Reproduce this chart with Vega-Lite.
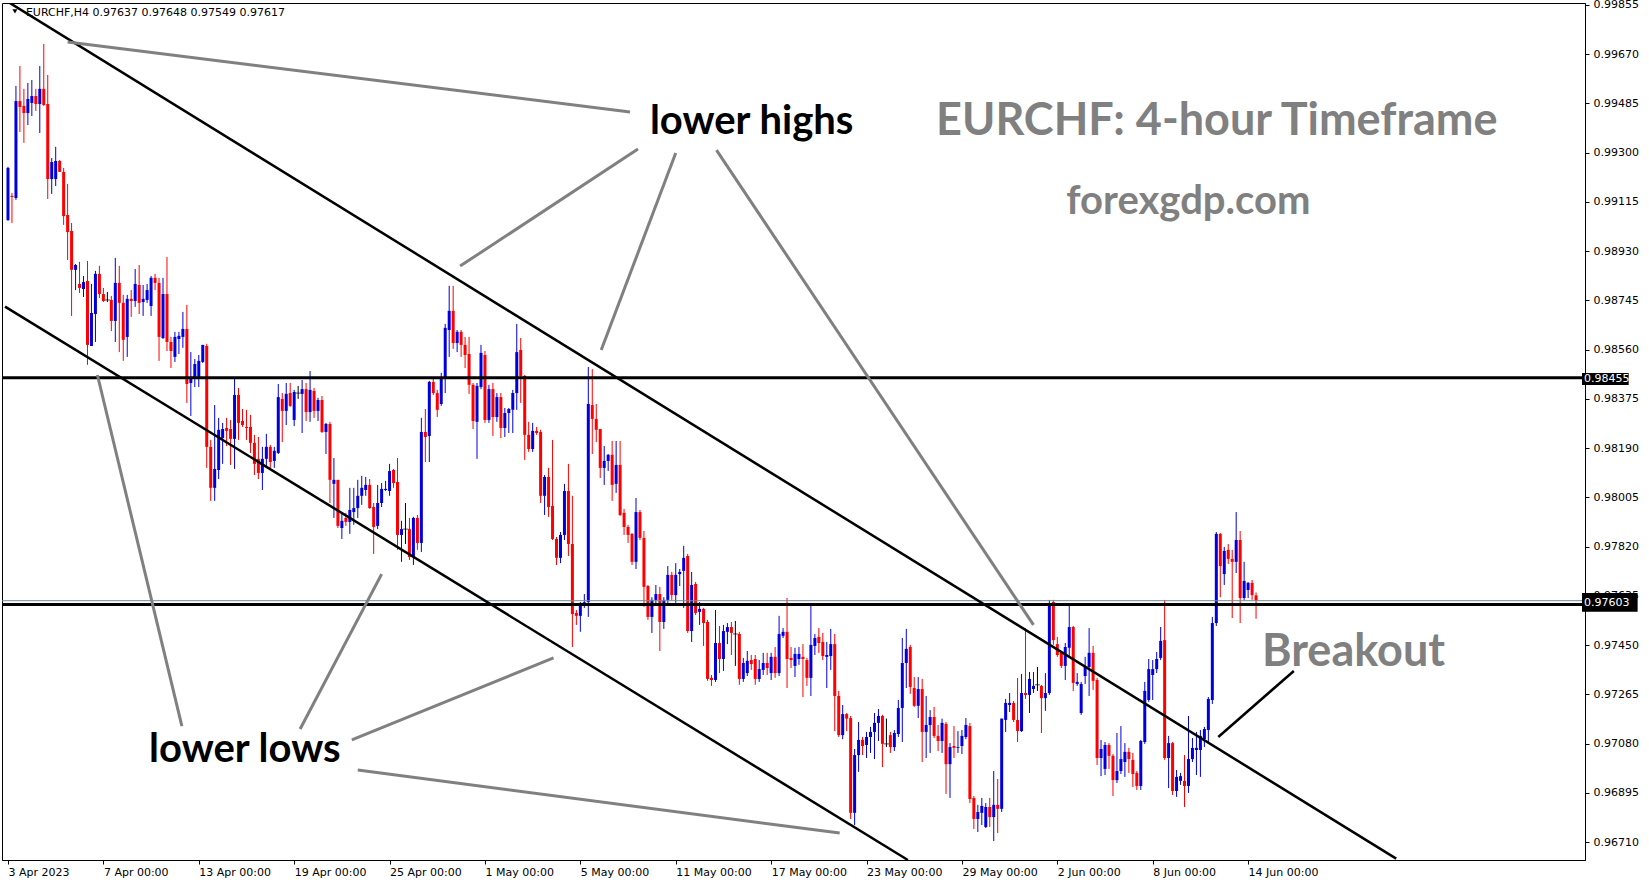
{
"$schema": "https://vega.github.io/schema/vega-lite/v6.json",
"width": 1583, "height": 857,
"autosize": {"type": "none"},
"padding": {"left": 2, "top": 3, "right": 64, "bottom": 24},
"background": "white",
"config": {"view": {"stroke": "black", "strokeWidth": 1}, "font": "DejaVu Sans"},
"datasets": {
"candles": [
{"i":0,"o":0.99047,"h":0.99247,"l":0.99044,"c":0.99243},
{"i":1,"o":0.99138,"h":0.99149,"l":0.99036,"c":0.99134},
{"i":2,"o":0.99130,"h":0.99551,"l":0.99123,"c":0.99494},
{"i":3,"o":0.99494,"h":0.99626,"l":0.99378,"c":0.99472},
{"i":4,"o":0.99476,"h":0.99540,"l":0.99337,"c":0.99449},
{"i":5,"o":0.99449,"h":0.99562,"l":0.99404,"c":0.99502},
{"i":6,"o":0.99487,"h":0.99573,"l":0.99438,"c":0.99513},
{"i":7,"o":0.99513,"h":0.99540,"l":0.99457,"c":0.99483},
{"i":8,"o":0.99483,"h":0.99626,"l":0.99374,"c":0.99540},
{"i":9,"o":0.99540,"h":0.99709,"l":0.99476,"c":0.99479},
{"i":10,"o":0.99483,"h":0.99592,"l":0.99126,"c":0.99201},
{"i":11,"o":0.99201,"h":0.99280,"l":0.99145,"c":0.99265},
{"i":12,"o":0.99201,"h":0.99322,"l":0.99175,"c":0.99269},
{"i":13,"o":0.99269,"h":0.99273,"l":0.99228,"c":0.99228},
{"i":14,"o":0.99228,"h":0.99243,"l":0.99029,"c":0.99062},
{"i":15,"o":0.99066,"h":0.99183,"l":0.98897,"c":0.99002},
{"i":16,"o":0.99006,"h":0.99036,"l":0.98687,"c":0.98860},
{"i":17,"o":0.98860,"h":0.98882,"l":0.98784,"c":0.98878},
{"i":18,"o":0.98807,"h":0.98890,"l":0.98773,"c":0.98792},
{"i":19,"o":0.98788,"h":0.98837,"l":0.98758,"c":0.98814},
{"i":20,"o":0.98818,"h":0.98893,"l":0.98503,"c":0.98578},
{"i":21,"o":0.98574,"h":0.98807,"l":0.98574,"c":0.98698},
{"i":22,"o":0.98694,"h":0.98856,"l":0.98589,"c":0.98845},
{"i":23,"o":0.98845,"h":0.98875,"l":0.98754,"c":0.98769},
{"i":24,"o":0.98769,"h":0.98792,"l":0.98739,"c":0.98743},
{"i":25,"o":0.98747,"h":0.98777,"l":0.98739,"c":0.98747},
{"i":26,"o":0.98747,"h":0.98762,"l":0.98630,"c":0.98668},
{"i":27,"o":0.98668,"h":0.98905,"l":0.98589,"c":0.98811},
{"i":28,"o":0.98811,"h":0.98875,"l":0.98551,"c":0.98736},
{"i":29,"o":0.98736,"h":0.98766,"l":0.98518,"c":0.98597},
{"i":30,"o":0.98608,"h":0.98766,"l":0.98533,"c":0.98751},
{"i":31,"o":0.98751,"h":0.98784,"l":0.98683,"c":0.98743},
{"i":32,"o":0.98743,"h":0.98863,"l":0.98721,"c":0.98807},
{"i":33,"o":0.98803,"h":0.98878,"l":0.98694,"c":0.98736},
{"i":34,"o":0.98739,"h":0.98803,"l":0.98687,"c":0.98751},
{"i":35,"o":0.98747,"h":0.98807,"l":0.98736,"c":0.98784},
{"i":36,"o":0.98724,"h":0.98837,"l":0.98687,"c":0.98830},
{"i":37,"o":0.98830,"h":0.98845,"l":0.98784,"c":0.98811},
{"i":38,"o":0.98811,"h":0.98830,"l":0.98518,"c":0.98608},
{"i":39,"o":0.98604,"h":0.98830,"l":0.98600,"c":0.98769},
{"i":40,"o":0.98769,"h":0.98908,"l":0.98555,"c":0.98589},
{"i":41,"o":0.98589,"h":0.98608,"l":0.98491,"c":0.98555},
{"i":42,"o":0.98533,"h":0.98627,"l":0.98514,"c":0.98608},
{"i":43,"o":0.98600,"h":0.98627,"l":0.98544,"c":0.98612},
{"i":44,"o":0.98608,"h":0.98702,"l":0.98567,"c":0.98638},
{"i":45,"o":0.98638,"h":0.98728,"l":0.98360,"c":0.98431},
{"i":46,"o":0.98435,"h":0.98551,"l":0.98311,"c":0.98454},
{"i":47,"o":0.98458,"h":0.98525,"l":0.98420,"c":0.98506},
{"i":48,"o":0.98458,"h":0.98540,"l":0.98420,"c":0.98518},
{"i":49,"o":0.98514,"h":0.98578,"l":0.98510,"c":0.98578},
{"i":50,"o":0.98574,"h":0.98582,"l":0.98116,"c":0.98195},
{"i":51,"o":0.98195,"h":0.98221,"l":0.97992,"c":0.98041},
{"i":52,"o":0.98041,"h":0.98352,"l":0.97992,"c":0.98112},
{"i":53,"o":0.98108,"h":0.98304,"l":0.98074,"c":0.98259},
{"i":54,"o":0.98228,"h":0.98285,"l":0.98131,"c":0.98262},
{"i":55,"o":0.98266,"h":0.98304,"l":0.98198,"c":0.98255},
{"i":56,"o":0.98262,"h":0.98296,"l":0.98127,"c":0.98225},
{"i":57,"o":0.98225,"h":0.98454,"l":0.98112,"c":0.98390},
{"i":58,"o":0.98390,"h":0.98416,"l":0.98221,"c":0.98285},
{"i":59,"o":0.98292,"h":0.98337,"l":0.98270,"c":0.98277},
{"i":60,"o":0.98270,"h":0.98334,"l":0.98221,"c":0.98266},
{"i":61,"o":0.98270,"h":0.98315,"l":0.98172,"c":0.98210},
{"i":62,"o":0.98210,"h":0.98240,"l":0.98089,"c":0.98131},
{"i":63,"o":0.98150,"h":0.98232,"l":0.98074,"c":0.98097},
{"i":64,"o":0.98097,"h":0.98195,"l":0.98033,"c":0.98150},
{"i":65,"o":0.98150,"h":0.98244,"l":0.98116,"c":0.98195},
{"i":66,"o":0.98195,"h":0.98202,"l":0.98108,"c":0.98138},
{"i":67,"o":0.98142,"h":0.98195,"l":0.98116,"c":0.98180},
{"i":68,"o":0.98172,"h":0.98431,"l":0.98168,"c":0.98382},
{"i":69,"o":0.98375,"h":0.98397,"l":0.98213,"c":0.98330},
{"i":70,"o":0.98330,"h":0.98435,"l":0.98277,"c":0.98394},
{"i":71,"o":0.98397,"h":0.98435,"l":0.98345,"c":0.98349},
{"i":72,"o":0.98296,"h":0.98409,"l":0.98273,"c":0.98401},
{"i":73,"o":0.98397,"h":0.98424,"l":0.98375,"c":0.98397},
{"i":74,"o":0.98394,"h":0.98446,"l":0.98247,"c":0.98412},
{"i":75,"o":0.98412,"h":0.98435,"l":0.98292,"c":0.98326},
{"i":76,"o":0.98326,"h":0.98480,"l":0.98289,"c":0.98409},
{"i":77,"o":0.98405,"h":0.98416,"l":0.98304,"c":0.98330},
{"i":78,"o":0.98330,"h":0.98379,"l":0.98292,"c":0.98371},
{"i":79,"o":0.98371,"h":0.98386,"l":0.98247,"c":0.98251},
{"i":80,"o":0.98251,"h":0.98285,"l":0.98168,"c":0.98281},
{"i":81,"o":0.98281,"h":0.98289,"l":0.97984,"c":0.98071},
{"i":82,"o":0.98056,"h":0.98153,"l":0.97928,"c":0.98071},
{"i":83,"o":0.98071,"h":0.98071,"l":0.97890,"c":0.97898},
{"i":84,"o":0.97890,"h":0.97947,"l":0.97849,"c":0.97917},
{"i":85,"o":0.97928,"h":0.97947,"l":0.97898,"c":0.97913},
{"i":86,"o":0.97913,"h":0.98041,"l":0.97868,"c":0.97958},
{"i":87,"o":0.97950,"h":0.98041,"l":0.97902,"c":0.97965},
{"i":88,"o":0.97965,"h":0.98071,"l":0.97928,"c":0.98011},
{"i":89,"o":0.98011,"h":0.98086,"l":0.97977,"c":0.98041},
{"i":90,"o":0.98033,"h":0.98082,"l":0.98011,"c":0.98052},
{"i":91,"o":0.98052,"h":0.98074,"l":0.97962,"c":0.97965},
{"i":92,"o":0.97969,"h":0.97984,"l":0.97793,"c":0.97894},
{"i":93,"o":0.97898,"h":0.98052,"l":0.97886,"c":0.97984},
{"i":94,"o":0.97984,"h":0.98059,"l":0.97969,"c":0.98037},
{"i":95,"o":0.98033,"h":0.98067,"l":0.98029,"c":0.98037},
{"i":96,"o":0.98029,"h":0.98131,"l":0.98011,"c":0.98104},
{"i":97,"o":0.98108,"h":0.98112,"l":0.98041,"c":0.98059},
{"i":98,"o":0.98063,"h":0.98153,"l":0.97808,"c":0.97864},
{"i":99,"o":0.97864,"h":0.97917,"l":0.97763,"c":0.97886},
{"i":100,"o":0.97886,"h":0.97984,"l":0.97830,"c":0.97886},
{"i":101,"o":0.97886,"h":0.97928,"l":0.97770,"c":0.97781},
{"i":102,"o":0.97781,"h":0.97932,"l":0.97751,"c":0.97928},
{"i":103,"o":0.97928,"h":0.97939,"l":0.97808,"c":0.97834},
{"i":104,"o":0.97834,"h":0.98304,"l":0.97800,"c":0.98251},
{"i":105,"o":0.98251,"h":0.98337,"l":0.98138,"c":0.98232},
{"i":106,"o":0.98236,"h":0.98443,"l":0.98138,"c":0.98439},
{"i":107,"o":0.98439,"h":0.98454,"l":0.98390,"c":0.98397},
{"i":108,"o":0.98397,"h":0.98409,"l":0.98307,"c":0.98334},
{"i":109,"o":0.98356,"h":0.98473,"l":0.98349,"c":0.98454},
{"i":110,"o":0.98450,"h":0.98657,"l":0.98397,"c":0.98642},
{"i":111,"o":0.98634,"h":0.98800,"l":0.98533,"c":0.98706},
{"i":112,"o":0.98706,"h":0.98800,"l":0.98563,"c":0.98585},
{"i":113,"o":0.98585,"h":0.98634,"l":0.98551,"c":0.98627},
{"i":114,"o":0.98627,"h":0.98634,"l":0.98533,"c":0.98578},
{"i":115,"o":0.98578,"h":0.98608,"l":0.98491,"c":0.98540},
{"i":116,"o":0.98544,"h":0.98608,"l":0.98394,"c":0.98428},
{"i":117,"o":0.98428,"h":0.98435,"l":0.98262,"c":0.98292},
{"i":118,"o":0.98289,"h":0.98435,"l":0.98150,"c":0.98424},
{"i":119,"o":0.98420,"h":0.98578,"l":0.98412,"c":0.98548},
{"i":120,"o":0.98540,"h":0.98555,"l":0.98285,"c":0.98296},
{"i":121,"o":0.98296,"h":0.98428,"l":0.98285,"c":0.98412},
{"i":122,"o":0.98412,"h":0.98435,"l":0.98236,"c":0.98307},
{"i":123,"o":0.98307,"h":0.98397,"l":0.98289,"c":0.98382},
{"i":124,"o":0.98382,"h":0.98397,"l":0.98228,"c":0.98266},
{"i":125,"o":0.98266,"h":0.98341,"l":0.98232,"c":0.98322},
{"i":126,"o":0.98322,"h":0.98341,"l":0.98247,"c":0.98337},
{"i":127,"o":0.98334,"h":0.98409,"l":0.98247,"c":0.98397},
{"i":128,"o":0.98397,"h":0.98657,"l":0.98334,"c":0.98551},
{"i":129,"o":0.98559,"h":0.98604,"l":0.98360,"c":0.98461},
{"i":130,"o":0.98461,"h":0.98465,"l":0.98146,"c":0.98240},
{"i":131,"o":0.98240,"h":0.98289,"l":0.98176,"c":0.98187},
{"i":132,"o":0.98187,"h":0.98285,"l":0.98176,"c":0.98255},
{"i":133,"o":0.98255,"h":0.98270,"l":0.98240,"c":0.98247},
{"i":134,"o":0.98251,"h":0.98259,"l":0.97984,"c":0.98011},
{"i":135,"o":0.98011,"h":0.98089,"l":0.97939,"c":0.98082},
{"i":136,"o":0.98082,"h":0.98116,"l":0.97932,"c":0.97969},
{"i":137,"o":0.97973,"h":0.98221,"l":0.97845,"c":0.97849},
{"i":138,"o":0.97849,"h":0.97856,"l":0.97751,"c":0.97778},
{"i":139,"o":0.97778,"h":0.97875,"l":0.97758,"c":0.97864},
{"i":140,"o":0.97864,"h":0.98056,"l":0.97845,"c":0.98029},
{"i":141,"o":0.98029,"h":0.98131,"l":0.97785,"c":0.97830},
{"i":142,"o":0.97830,"h":0.98011,"l":0.97443,"c":0.97567},
{"i":143,"o":0.97571,"h":0.97582,"l":0.97526,"c":0.97560},
{"i":144,"o":0.97560,"h":0.97612,"l":0.97500,"c":0.97601},
{"i":145,"o":0.97609,"h":0.97642,"l":0.97590,"c":0.97612},
{"i":146,"o":0.97612,"h":0.98495,"l":0.97556,"c":0.98356},
{"i":147,"o":0.98352,"h":0.98487,"l":0.98168,"c":0.98300},
{"i":148,"o":0.98300,"h":0.98356,"l":0.98213,"c":0.98259},
{"i":149,"o":0.98262,"h":0.98262,"l":0.98078,"c":0.98116},
{"i":150,"o":0.98116,"h":0.98198,"l":0.98052,"c":0.98142},
{"i":151,"o":0.98142,"h":0.98168,"l":0.98104,"c":0.98165},
{"i":152,"o":0.98165,"h":0.98217,"l":0.97992,"c":0.98052},
{"i":153,"o":0.98056,"h":0.98217,"l":0.98022,"c":0.98127},
{"i":154,"o":0.98127,"h":0.98217,"l":0.97935,"c":0.97939},
{"i":155,"o":0.97947,"h":0.97962,"l":0.97864,"c":0.97894},
{"i":156,"o":0.97894,"h":0.97902,"l":0.97834,"c":0.97864},
{"i":157,"o":0.97868,"h":0.97871,"l":0.97751,"c":0.97763},
{"i":158,"o":0.97763,"h":0.98003,"l":0.97736,"c":0.97950},
{"i":159,"o":0.97950,"h":0.97958,"l":0.97845,"c":0.97853},
{"i":160,"o":0.97853,"h":0.97879,"l":0.97594,"c":0.97669},
{"i":161,"o":0.97672,"h":0.97676,"l":0.97545,"c":0.97556},
{"i":162,"o":0.97556,"h":0.97630,"l":0.97496,"c":0.97620},
{"i":163,"o":0.97620,"h":0.97676,"l":0.97601,"c":0.97642},
{"i":164,"o":0.97642,"h":0.97669,"l":0.97428,"c":0.97537},
{"i":165,"o":0.97537,"h":0.97630,"l":0.97511,"c":0.97620},
{"i":166,"o":0.97620,"h":0.97747,"l":0.97605,"c":0.97714},
{"i":167,"o":0.97714,"h":0.97725,"l":0.97620,"c":0.97638},
{"i":168,"o":0.97638,"h":0.97758,"l":0.97609,"c":0.97714},
{"i":169,"o":0.97717,"h":0.97736,"l":0.97672,"c":0.97725},
{"i":170,"o":0.97729,"h":0.97823,"l":0.97590,"c":0.97778},
{"i":171,"o":0.97785,"h":0.97793,"l":0.97496,"c":0.97503},
{"i":172,"o":0.97503,"h":0.97725,"l":0.97462,"c":0.97676},
{"i":173,"o":0.97680,"h":0.97687,"l":0.97563,"c":0.97571},
{"i":174,"o":0.97575,"h":0.97612,"l":0.97526,"c":0.97586},
{"i":175,"o":0.97586,"h":0.97590,"l":0.97447,"c":0.97533},
{"i":176,"o":0.97537,"h":0.97545,"l":0.97316,"c":0.97323},
{"i":177,"o":0.97327,"h":0.97338,"l":0.97297,"c":0.97319},
{"i":178,"o":0.97319,"h":0.97582,"l":0.97312,"c":0.97458},
{"i":179,"o":0.97458,"h":0.97522,"l":0.97345,"c":0.97398},
{"i":180,"o":0.97398,"h":0.97526,"l":0.97353,"c":0.97503},
{"i":181,"o":0.97500,"h":0.97533,"l":0.97454,"c":0.97518},
{"i":182,"o":0.97518,"h":0.97537,"l":0.97413,"c":0.97496},
{"i":183,"o":0.97492,"h":0.97541,"l":0.97372,"c":0.97492},
{"i":184,"o":0.97492,"h":0.97500,"l":0.97301,"c":0.97323},
{"i":185,"o":0.97323,"h":0.97402,"l":0.97312,"c":0.97383},
{"i":186,"o":0.97345,"h":0.97428,"l":0.97334,"c":0.97391},
{"i":187,"o":0.97394,"h":0.97413,"l":0.97357,"c":0.97379},
{"i":188,"o":0.97398,"h":0.97413,"l":0.97301,"c":0.97323},
{"i":189,"o":0.97323,"h":0.97394,"l":0.97312,"c":0.97360},
{"i":190,"o":0.97357,"h":0.97421,"l":0.97338,"c":0.97383},
{"i":191,"o":0.97383,"h":0.97421,"l":0.97338,"c":0.97364},
{"i":192,"o":0.97345,"h":0.97421,"l":0.97319,"c":0.97406},
{"i":193,"o":0.97406,"h":0.97443,"l":0.97327,"c":0.97345},
{"i":194,"o":0.97345,"h":0.97560,"l":0.97334,"c":0.97492},
{"i":195,"o":0.97485,"h":0.97514,"l":0.97477,"c":0.97500},
{"i":196,"o":0.97500,"h":0.97627,"l":0.97289,"c":0.97398},
{"i":197,"o":0.97402,"h":0.97443,"l":0.97364,"c":0.97394},
{"i":198,"o":0.97372,"h":0.97440,"l":0.97330,"c":0.97417},
{"i":199,"o":0.97398,"h":0.97443,"l":0.97376,"c":0.97417},
{"i":200,"o":0.97406,"h":0.97454,"l":0.97255,"c":0.97398},
{"i":201,"o":0.97394,"h":0.97402,"l":0.97297,"c":0.97327},
{"i":202,"o":0.97327,"h":0.97597,"l":0.97259,"c":0.97451},
{"i":203,"o":0.97447,"h":0.97492,"l":0.97413,"c":0.97477},
{"i":204,"o":0.97481,"h":0.97514,"l":0.97421,"c":0.97458},
{"i":205,"o":0.97462,"h":0.97496,"l":0.97394,"c":0.97409},
{"i":206,"o":0.97406,"h":0.97462,"l":0.97289,"c":0.97413},
{"i":207,"o":0.97409,"h":0.97511,"l":0.97357,"c":0.97454},
{"i":208,"o":0.97454,"h":0.97492,"l":0.97127,"c":0.97259},
{"i":209,"o":0.97259,"h":0.97278,"l":0.97105,"c":0.97112},
{"i":210,"o":0.97112,"h":0.97225,"l":0.97097,"c":0.97191},
{"i":211,"o":0.97191,"h":0.97195,"l":0.97127,"c":0.97174},
{"i":212,"o":0.97176,"h":0.97184,"l":0.96797,"c":0.96820},
{"i":213,"o":0.96820,"h":0.97060,"l":0.96774,"c":0.97037},
{"i":214,"o":0.97037,"h":0.97161,"l":0.96974,"c":0.97094},
{"i":215,"o":0.97094,"h":0.97105,"l":0.97037,"c":0.97071},
{"i":216,"o":0.97075,"h":0.97124,"l":0.97026,"c":0.97105},
{"i":217,"o":0.97105,"h":0.97143,"l":0.97045,"c":0.97124},
{"i":218,"o":0.97124,"h":0.97195,"l":0.97022,"c":0.97158},
{"i":219,"o":0.97158,"h":0.97210,"l":0.97090,"c":0.97184},
{"i":220,"o":0.97184,"h":0.97188,"l":0.96992,"c":0.97079},
{"i":221,"o":0.97079,"h":0.97174,"l":0.97067,"c":0.97079},
{"i":222,"o":0.97112,"h":0.97124,"l":0.97045,"c":0.97067},
{"i":223,"o":0.97067,"h":0.97131,"l":0.97052,"c":0.97120},
{"i":224,"o":0.97116,"h":0.97244,"l":0.97105,"c":0.97214},
{"i":225,"o":0.97214,"h":0.97477,"l":0.97086,"c":0.97383},
{"i":226,"o":0.97383,"h":0.97511,"l":0.97289,"c":0.97436},
{"i":227,"o":0.97443,"h":0.97451,"l":0.97267,"c":0.97293},
{"i":228,"o":0.97289,"h":0.97330,"l":0.97218,"c":0.97222},
{"i":229,"o":0.97222,"h":0.97330,"l":0.97176,"c":0.97285},
{"i":230,"o":0.97285,"h":0.97323,"l":0.97011,"c":0.97124},
{"i":231,"o":0.97124,"h":0.97259,"l":0.97026,"c":0.97150},
{"i":232,"o":0.97150,"h":0.97206,"l":0.97045,"c":0.97180},
{"i":233,"o":0.97180,"h":0.97218,"l":0.97101,"c":0.97109},
{"i":234,"o":0.97109,"h":0.97150,"l":0.97052,"c":0.97090},
{"i":235,"o":0.97090,"h":0.97174,"l":0.97045,"c":0.97158},
{"i":236,"o":0.97154,"h":0.97161,"l":0.96891,"c":0.97003},
{"i":237,"o":0.97003,"h":0.97082,"l":0.96876,"c":0.97067},
{"i":238,"o":0.97071,"h":0.97146,"l":0.97026,"c":0.97064},
{"i":239,"o":0.97064,"h":0.97127,"l":0.97045,"c":0.97067},
{"i":240,"o":0.97071,"h":0.97131,"l":0.97041,"c":0.97109},
{"i":241,"o":0.97105,"h":0.97176,"l":0.97097,"c":0.97150},
{"i":242,"o":0.97146,"h":0.97158,"l":0.96857,"c":0.96872},
{"i":243,"o":0.96876,"h":0.96883,"l":0.96759,"c":0.96797},
{"i":244,"o":0.96797,"h":0.96850,"l":0.96748,"c":0.96823},
{"i":245,"o":0.96820,"h":0.96876,"l":0.96774,"c":0.96846},
{"i":246,"o":0.96767,"h":0.96857,"l":0.96763,"c":0.96842},
{"i":247,"o":0.96842,"h":0.96876,"l":0.96767,"c":0.96804},
{"i":248,"o":0.96804,"h":0.96977,"l":0.96714,"c":0.96850},
{"i":249,"o":0.96850,"h":0.96947,"l":0.96744,"c":0.96835},
{"i":250,"o":0.96835,"h":0.97174,"l":0.96823,"c":0.97174},
{"i":251,"o":0.97169,"h":0.97248,"l":0.97124,"c":0.97233},
{"i":252,"o":0.97225,"h":0.97270,"l":0.97199,"c":0.97233},
{"i":253,"o":0.97233,"h":0.97240,"l":0.97161,"c":0.97169},
{"i":254,"o":0.97169,"h":0.97327,"l":0.97086,"c":0.97127},
{"i":255,"o":0.97127,"h":0.97342,"l":0.97124,"c":0.97270},
{"i":256,"o":0.97270,"h":0.97514,"l":0.97248,"c":0.97263},
{"i":257,"o":0.97263,"h":0.97349,"l":0.97195,"c":0.97323},
{"i":258,"o":0.97285,"h":0.97349,"l":0.97270,"c":0.97297},
{"i":259,"o":0.97301,"h":0.97368,"l":0.97278,"c":0.97301},
{"i":260,"o":0.97297,"h":0.97301,"l":0.97120,"c":0.97251},
{"i":261,"o":0.97251,"h":0.97345,"l":0.97203,"c":0.97270},
{"i":262,"o":0.97270,"h":0.97620,"l":0.97263,"c":0.97605},
{"i":263,"o":0.97612,"h":0.97620,"l":0.97451,"c":0.97469},
{"i":264,"o":0.97454,"h":0.97481,"l":0.97406,"c":0.97413},
{"i":265,"o":0.97421,"h":0.97424,"l":0.97364,"c":0.97372},
{"i":266,"o":0.97372,"h":0.97458,"l":0.97319,"c":0.97443},
{"i":267,"o":0.97440,"h":0.97605,"l":0.97406,"c":0.97518},
{"i":268,"o":0.97518,"h":0.97522,"l":0.97278,"c":0.97308},
{"i":269,"o":0.97304,"h":0.97345,"l":0.97297,"c":0.97312},
{"i":270,"o":0.97195,"h":0.97312,"l":0.97188,"c":0.97304},
{"i":271,"o":0.97334,"h":0.97406,"l":0.97304,"c":0.97368},
{"i":272,"o":0.97368,"h":0.97514,"l":0.97259,"c":0.97421},
{"i":273,"o":0.97421,"h":0.97447,"l":0.97282,"c":0.97316},
{"i":274,"o":0.97319,"h":0.97327,"l":0.97000,"c":0.97026},
{"i":275,"o":0.97026,"h":0.97094,"l":0.96958,"c":0.97060},
{"i":276,"o":0.96985,"h":0.97086,"l":0.96962,"c":0.97075},
{"i":277,"o":0.97075,"h":0.97082,"l":0.96985,"c":0.97034},
{"i":278,"o":0.97034,"h":0.97041,"l":0.96883,"c":0.96943},
{"i":279,"o":0.96943,"h":0.97120,"l":0.96932,"c":0.96977},
{"i":280,"o":0.96977,"h":0.97146,"l":0.96966,"c":0.97022},
{"i":281,"o":0.97011,"h":0.97082,"l":0.96955,"c":0.97049},
{"i":282,"o":0.97049,"h":0.97064,"l":0.96970,"c":0.97022},
{"i":283,"o":0.97019,"h":0.97045,"l":0.96917,"c":0.96966},
{"i":284,"o":0.96970,"h":0.96977,"l":0.96906,"c":0.96921},
{"i":285,"o":0.96921,"h":0.97094,"l":0.96906,"c":0.97090},
{"i":286,"o":0.97086,"h":0.97312,"l":0.97079,"c":0.97278},
{"i":287,"o":0.97244,"h":0.97398,"l":0.97237,"c":0.97360},
{"i":288,"o":0.97338,"h":0.97394,"l":0.97244,"c":0.97360},
{"i":289,"o":0.97360,"h":0.97424,"l":0.97345,"c":0.97398},
{"i":290,"o":0.97402,"h":0.97518,"l":0.97394,"c":0.97466},
{"i":291,"o":0.97469,"h":0.97620,"l":0.97019,"c":0.97026},
{"i":292,"o":0.97026,"h":0.97109,"l":0.96913,"c":0.97082},
{"i":293,"o":0.97082,"h":0.97086,"l":0.96887,"c":0.96902},
{"i":294,"o":0.96902,"h":0.96981,"l":0.96880,"c":0.96955},
{"i":295,"o":0.96940,"h":0.96970,"l":0.96925,"c":0.96958},
{"i":296,"o":0.96940,"h":0.97037,"l":0.96842,"c":0.96921},
{"i":297,"o":0.96921,"h":0.97184,"l":0.96895,"c":0.97022},
{"i":298,"o":0.97022,"h":0.97101,"l":0.97011,"c":0.97064},
{"i":299,"o":0.97056,"h":0.97124,"l":0.96962,"c":0.97064},
{"i":300,"o":0.97056,"h":0.97131,"l":0.96955,"c":0.97109},
{"i":301,"o":0.97097,"h":0.97143,"l":0.97067,"c":0.97135},
{"i":302,"o":0.97131,"h":0.97255,"l":0.97086,"c":0.97248},
{"i":303,"o":0.97244,"h":0.97556,"l":0.97229,"c":0.97533},
{"i":304,"o":0.97533,"h":0.97875,"l":0.97522,"c":0.97868},
{"i":305,"o":0.97868,"h":0.97871,"l":0.97630,"c":0.97747},
{"i":306,"o":0.97717,"h":0.97819,"l":0.97676,"c":0.97804},
{"i":307,"o":0.97808,"h":0.97830,"l":0.97755,"c":0.97774},
{"i":308,"o":0.97774,"h":0.97808,"l":0.97552,"c":0.97763},
{"i":309,"o":0.97763,"h":0.97950,"l":0.97721,"c":0.97845},
{"i":310,"o":0.97845,"h":0.97879,"l":0.97533,"c":0.97627},
{"i":311,"o":0.97627,"h":0.97763,"l":0.97620,"c":0.97691},
{"i":312,"o":0.97657,"h":0.97687,"l":0.97627,"c":0.97684},
{"i":313,"o":0.97684,"h":0.97695,"l":0.97620,"c":0.97638},
{"i":314,"o":0.97637,"h":0.97648,"l":0.97549,"c":0.97617}
],
"trend": [
{"n":"upper","i":-1,"p":0.99876},{"n":"upper","i":349.25,"p":0.96648},
{"n":"lower","i":-0.75,"p":0.98722},{"n":"lower","i":226.4,"p":0.96643},
{"n":"arrow","i":304.5,"p":0.97105},{"n":"arrow","i":323.5,"p":0.97353}
],
"callouts": [
{"n":"a","i":15,"p":0.99716},{"n":"a","i":156.5,"p":0.99453},
{"n":"b","i":113.75,"p":0.98874},{"n":"b","i":158.5,"p":0.99314},
{"n":"c","i":149.25,"p":0.98559},{"n":"c","i":168,"p":0.99299},
{"n":"d","i":178.25,"p":0.99310},{"n":"d","i":258,"p":0.97526},
{"n":"e","i":22.5,"p":0.98465},{"n":"e","i":43.75,"p":0.97146},
{"n":"f","i":94,"p":0.97717},{"n":"f","i":73.5,"p":0.97135},
{"n":"g","i":137.25,"p":0.97402},{"n":"g","i":86.5,"p":0.97094},
{"n":"h","i":88,"p":0.96981},{"n":"h","i":209.25,"p":0.96744}
]
},
"layer": [
{
"data": {"name": "candles"},
"mark": {"type": "rule", "strokeWidth": 1},
"encoding": {
"x": {"field": "i", "type": "quantitative", "title": null,
"scale": {"domain": [-0.25, 395.5], "nice": false, "zero": false},
"axis": {"values": [0,24,48,72,96,120,144,168,192,216,240,264,288,312],
"labelExpr": "['3 Apr 2023','7 Apr 00:00','13 Apr 00:00','19 Apr 00:00','25 Apr 00:00','1 May 00:00','5 May 00:00','11 May 00:00','17 May 00:00','23 May 00:00','29 May 00:00','2 Jun 00:00','8 Jun 00:00','14 Jun 00:00'][round(datum.value/24)]",
"labelAlign": "left", "labelFont": "DejaVu Sans", "labelFontSize": 11, "labelColor": "black",
"tickColor": "black", "tickSize": 4, "domainColor": "black", "labelPadding": 2,
"grid": false, "labelOverlap": false, "labelFlush": false, "labelBound": false}},
"y": {"field": "l", "type": "quantitative", "title": null,
"scale": {"domain": [0.966428, 0.998625], "nice": false, "zero": false},
"axis": {"orient": "right", "values": [0.9671,0.96895,0.9708,0.97265,0.9745,0.97635,0.9782,0.98005,0.9819,0.98375,0.9856,0.98745,0.9893,0.99115,0.993,0.99485,0.9967,0.99855],
"format": ".5f", "labelFont": "DejaVu Sans", "labelFontSize": 11, "labelColor": "black",
"tickColor": "black", "tickSize": 4, "domainColor": "black", "labelPadding": 4,
"grid": false, "labelOverlap": false, "labelFlush": false, "labelBound": false}},
"y2": {"field": "h"},
"color": {"condition": [{"test": "datum.c > datum.o", "value": "#0000DD"}, {"test": "datum.c < datum.o", "value": "#FF0000"}], "value": "black"}
}
},
{
"data": {"name": "candles"},
"mark": {"type": "bar", "width": 3},
"encoding": {
"x": {"field": "i", "type": "quantitative", "title": null},
"y": {"field": "o", "type": "quantitative", "title": null},
"y2": {"field": "c"},
"color": {"condition": [{"test": "datum.c > datum.o", "value": "#0000DD"}, {"test": "datum.c < datum.o", "value": "#FF0000"}], "value": "black"}
}
},
{
"data": {"name": "candles"},
"transform": [{"filter": "datum.o == datum.c"}],
"mark": {"type": "tick", "orient": "horizontal", "size": 5, "thickness": 1, "color": "black"},
"encoding": {
"x": {"field": "i", "type": "quantitative", "title": null},
"y": {"field": "c", "type": "quantitative", "title": null}
}
},
{
"data": {"values": [{"p": 0.97617}]},
"mark": {"type": "rule", "strokeWidth": 1, "color": "#778899"},
"encoding": {"y": {"field": "p", "type": "quantitative", "title": null}}
},
{
"data": {"values": [{"p": 0.98455}, {"p": 0.97603}]},
"mark": {"type": "rule", "strokeWidth": 3, "color": "black"},
"encoding": {"y": {"field": "p", "type": "quantitative", "title": null}}
},
{
"data": {"name": "trend"},
"mark": {"type": "line", "strokeWidth": 2.5, "color": "black", "clip": true},
"encoding": {
"x": {"field": "i", "type": "quantitative", "title": null},
"y": {"field": "p", "type": "quantitative", "title": null},
"detail": {"field": "n"}
}
},
{
"data": {"name": "callouts"},
"mark": {"type": "line", "strokeWidth": 3, "color": "#808080", "clip": true},
"encoding": {
"x": {"field": "i", "type": "quantitative", "title": null},
"y": {"field": "p", "type": "quantitative", "title": null},
"detail": {"field": "n"}
}
},
{
"data": {"values": [{"t": "lower highs", "i": 161.5, "p": 0.99415}, {"t": "lower lows", "i": 35.5, "p": 0.97056}]},
"mark": {"type": "text", "align": "left", "baseline": "middle", "font": "Lato", "fontWeight": "bold", "fontSize": 40, "color": "black"},
"encoding": {
"x": {"field": "i", "type": "quantitative", "title": null},
"y": {"field": "p", "type": "quantitative", "title": null},
"text": {"field": "t"}
}
},
{
"data": {"values": [{"t": "EURCHF: 4-hour Timeframe", "i": 233.5, "p": 0.99419}, {"t": "Breakout", "i": 315.5, "p": 0.97424}]},
"mark": {"type": "text", "align": "left", "baseline": "middle", "font": "Lato", "fontWeight": "bold", "fontSize": 45, "color": "#808080"},
"encoding": {
"x": {"field": "i", "type": "quantitative", "title": null},
"y": {"field": "p", "type": "quantitative", "title": null},
"text": {"field": "t"}
}
},
{
"data": {"values": [{"t": "forexgdp.com", "i": 266.25, "p": 0.99115}]},
"mark": {"type": "text", "align": "left", "baseline": "middle", "font": "Lato", "fontWeight": "bold", "fontSize": 40, "color": "#808080"},
"encoding": {
"x": {"field": "i", "type": "quantitative", "title": null},
"y": {"field": "p", "type": "quantitative", "title": null},
"text": {"field": "t"}
}
},
{
"data": {"values": [{"t": "EURCHF,H4  0.97637 0.97648 0.97549 0.97617", "i": 4.5, "p": 0.99825}]},
"mark": {"type": "text", "align": "left", "baseline": "middle", "font": "DejaVu Sans", "fontSize": 11, "color": "black"},
"encoding": {
"x": {"field": "i", "type": "quantitative", "title": null},
"y": {"field": "p", "type": "quantitative", "title": null},
"text": {"field": "t"}
}
},
{
"data": {"values": [{"i": 1.75, "p": 0.99831}]},
"mark": {"type": "point", "shape": "triangle-down", "filled": true, "color": "black", "size": 25, "opacity": 1},
"encoding": {
"x": {"field": "i", "type": "quantitative", "title": null},
"y": {"field": "p", "type": "quantitative", "title": null}
}
},
{
"data": {"values": [{"i": 396, "i2": 407.75, "p": 0.98472, "p2": 0.98427}, {"i": 396, "i2": 410, "p": 0.97646, "p2": 0.97575}]},
"mark": {"type": "rect", "color": "black", "clip": false},
"encoding": {
"x": {"field": "i", "type": "quantitative", "title": null},
"x2": {"field": "i2"},
"y": {"field": "p", "type": "quantitative", "title": null},
"y2": {"field": "p2"}
}
},
{
"data": {"values": [{"t": "0.98455", "i": 396.5, "p": 0.98450}, {"t": "0.97603", "i": 396.5, "p": 0.97610}]},
"mark": {"type": "text", "align": "left", "baseline": "middle", "font": "DejaVu Sans", "fontSize": 11, "color": "white", "clip": false},
"encoding": {
"x": {"field": "i", "type": "quantitative", "title": null},
"y": {"field": "p", "type": "quantitative", "title": null},
"text": {"field": "t"}
}
}
]
}
